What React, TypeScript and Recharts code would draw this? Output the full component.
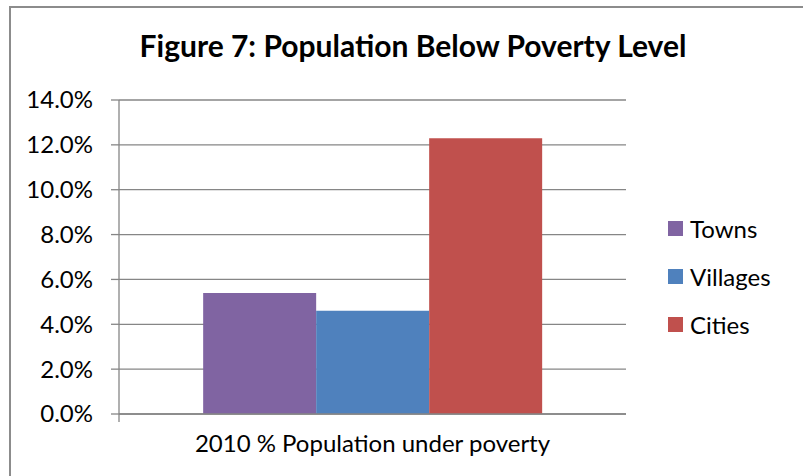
import { BarChart, Bar, XAxis, YAxis, CartesianGrid, Legend } from "recharts";

const categories = ["2010 % Population under poverty"];
const towns = [5.4];
const villages = [4.6];
const cities = [12.3];
const yTicks = [0, 2, 4, 6, 8, 10, 12, 14];

const seriesNames = ["Towns", "Villages", "Cities"];
const seriesColors = ["#8064A2", "#4F81BD", "#C0504D"];

const data = categories.map((name, i) => ({
  name,
  Towns: towns[i],
  Villages: villages[i],
  Cities: cities[i],
}));

const FONT = "Lato, 'DejaVu Sans', sans-serif";
const GRID = "#868686";
const TICK = 8;

// y tick label; at 0 it also draws the small downward tick that Excel puts at the category edge
function LeftTick({ x, y, payload }: any) {
  return (
    <g>
      <text x={x - 18} y={y} dy="0.35em" textAnchor="end" fill="#000" fontFamily={FONT} fontSize={24}>
        {`${payload.value.toFixed(1)}%`}
      </text>
      {payload.value === 0 && (
        <line x1={x + TICK} x2={x + TICK} y1={y} y2={y + TICK} stroke={GRID} strokeWidth={1.3} />
      )}
    </g>
  );
}

function RightTick({ x, y }: any) {
  return <line x1={x} x2={x} y1={y} y2={y + TICK} stroke={GRID} strokeWidth={1.3} />;
}

function LegendList({ payload }: any) {
  const items = [...(payload || [])].sort(
    (a: any, b: any) => seriesNames.indexOf(a.value) - seriesNames.indexOf(b.value)
  );
  return (
    <div style={{ fontFamily: FONT, fontSize: 24, color: "#000" }}>
      {items.map((p: any) => (
        <div key={p.value} style={{ display: "flex", alignItems: "center", height: 48 }}>
          <span style={{ width: 15, height: 15, background: p.color, marginRight: 7, display: "inline-block" }} />
          {p.value}
        </div>
      ))}
    </div>
  );
}

export default function App() {
  return (
    <div style={{ position: "absolute", left: 0, top: 0, width: 803, height: 476, overflow: "hidden", background: "#fff" }}>
      <div
        style={{
          position: "absolute",
          left: 9,
          top: 6,
          width: 820,
          height: 500,
          borderTop: "2px solid #8c8c8c",
          borderLeft: "2px solid #8c8c8c",
        }}
      />
      <div
        style={{
          position: "absolute",
          left: 0,
          width: 826,
          top: 27,
          textAlign: "center",
          fontFamily: FONT,
          fontWeight: 700,
          fontSize: 30,
          color: "#000",
        }}
      >
        Figure 7: Population Below Poverty Level
      </div>
      <BarChart
        width={803}
        height={476}
        data={data}
        margin={{ top: 100, right: 46, bottom: 12, left: 19 }}
        barCategoryGap="16.6%"
        barGap={0}
        style={{ position: "absolute", left: 0, top: 0 }}
      >
        <CartesianGrid vertical={false} stroke={GRID} strokeWidth={1.3} />
        <XAxis
          dataKey="name"
          height={50}
          tickLine={false}
          tickSize={0}
          tickMargin={21}
          axisLine={{ stroke: GRID, strokeWidth: 1.3 }}
          tick={{ fill: "#000", fontFamily: FONT, fontSize: 24 }}
        />
        <YAxis
          width={100}
          domain={[0, 14]}
          ticks={yTicks}
          interval={0}
          tickSize={TICK}
          tickMargin={0}
          axisLine={{ stroke: GRID, strokeWidth: 1.3 }}
          tickLine={{ stroke: GRID, strokeWidth: 1.3 }}
          tick={<LeftTick />}
        />
        <YAxis
          yAxisId="right"
          orientation="right"
          width={1}
          domain={[0, 14]}
          ticks={[0]}
          tickSize={0}
          tickMargin={0}
          axisLine={false}
          tickLine={false}
          tick={<RightTick />}
        />
        <Legend
          layout="vertical"
          align="right"
          verticalAlign="top"
          content={<LegendList />}
          wrapperStyle={{ left: 668, top: 204, width: 130 }}
        />
        {seriesNames.map((s, i) => (
          <Bar key={s} dataKey={s} fill={seriesColors[i]} isAnimationActive={false} />
        ))}
      </BarChart>
    </div>
  );
}
